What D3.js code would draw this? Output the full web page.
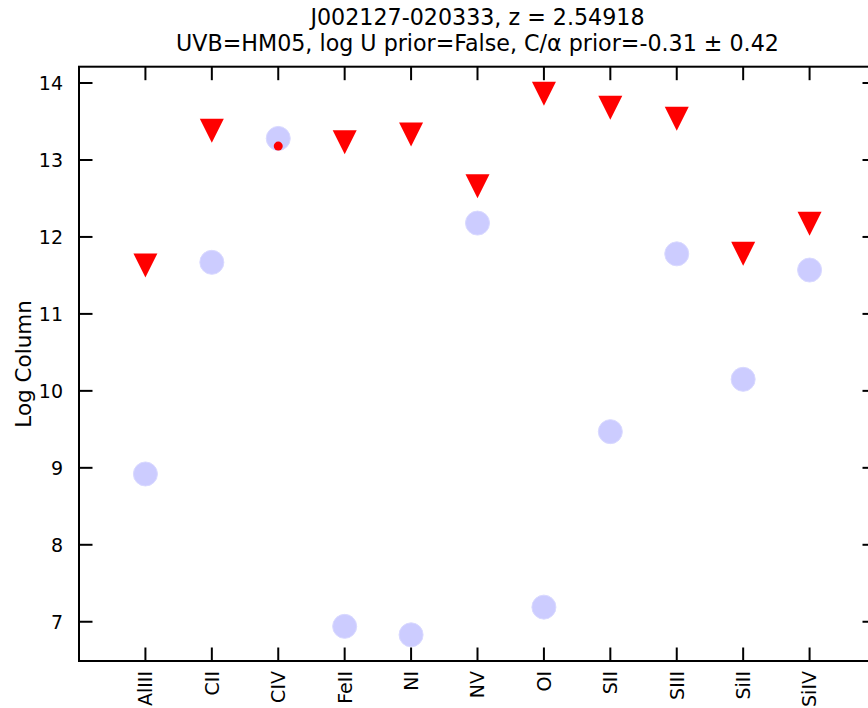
<!DOCTYPE html>
<html><head><meta charset="utf-8">
<script src="https://cdn.jsdelivr.net/npm/d3@7"></script>
<style>body{margin:0;background:#fff}svg{display:block}text{font-family:"DejaVu Sans",sans-serif;fill:#000}</style>
</head><body><div id="c"></div>
<script>
const ions = ["AlIII","CII","CIV","FeII","NI","NV","OI","SII","SIII","SiII","SiIV"];
const modelValues = [8.92,11.67,13.28,6.94,6.83,12.18,7.19,9.47,11.78,10.15,11.57];
const upperLimitIons = ["AlIII","CII","FeII","NI","NV","OI","SII","SIII","SiII","SiIV"];
const upperLimitValues = [11.63,13.38,13.23,13.33,12.66,13.86,13.68,13.535,11.78,12.17];
const detectionIons = ["CIV"];
const detectionValues = [13.18];
const detectionErrors = [0.04];
const yTicks = [7,8,9,10,11,12,13,14];
const titleLines = ["J002127-020333, z = 2.54918","UVB=HM05, log U prior=False, C/α prior=-0.31 ± 0.42"];
const yLabel = "Log Column";

const W=868,H=708;
const m={left:79,right:876,top:66.7,bottom:661};
const svg=d3.select("#c").append("svg").attr("width",W).attr("height",H);
const x=d3.scaleLinear().domain([-1,11]).range([m.left,m.right]);
const y=d3.scaleLinear().domain([6.49,14.212]).range([m.bottom,m.top]);
const xi=n=>x(ions.indexOf(n));

const g=svg.append("g");
// model circles
g.selectAll("circle.m").data(modelValues).join("circle").attr("class","m")
 .attr("cx",(d,i)=>x(i)).attr("cy",d=>y(d)).attr("r",12)
 .attr("fill","#ccccff").attr("stroke","#d9d9ff").attr("stroke-width",1);
// upper limits
g.selectAll("path.u").data(upperLimitValues).join("path").attr("class","u")
 .attr("d","M-12,-12L12,-12L0,12Z")
 .attr("transform",(d,i)=>`translate(${xi(upperLimitIons[i])},${y(d)})`)
 .attr("fill","#ff0000");
// detections
g.selectAll("line.e").data(detectionValues).join("line").attr("class","e")
 .attr("x1",(d,i)=>xi(detectionIons[i])).attr("x2",(d,i)=>xi(detectionIons[i]))
 .attr("y1",(d,i)=>y(d+detectionErrors[i])).attr("y2",(d,i)=>y(d-detectionErrors[i]))
 .attr("stroke","#ff0000").attr("stroke-width",3);
g.selectAll("circle.d").data(detectionValues).join("circle").attr("class","d")
 .attr("cx",(d,i)=>xi(detectionIons[i])).attr("cy",d=>y(d)).attr("r",4.5).attr("fill","#ff0000");

// axes (ticks inward)
const tl=13.5;
const ax=svg.append("g").attr("stroke","#000").attr("stroke-width",2);
ax.append("rect").attr("x",m.left).attr("y",m.top).attr("width",m.right-m.left).attr("height",m.bottom-m.top).attr("fill","none");
ions.forEach((n,i)=>{
  ax.append("line").attr("x1",x(i)).attr("x2",x(i)).attr("y1",m.bottom).attr("y2",m.bottom-tl);
  ax.append("line").attr("x1",x(i)).attr("x2",x(i)).attr("y1",m.top).attr("y2",m.top+tl);
});
yTicks.forEach(t=>{
  ax.append("line").attr("x1",m.left).attr("x2",m.left+tl).attr("y1",y(t)).attr("y2",y(t));
  ax.append("line").attr("x1",m.right).attr("x2",m.right-tl).attr("y1",y(t)).attr("y2",y(t));
});
svg.append("g").selectAll("text").data(yTicks).join("text")
 .attr("x",m.left-16).attr("y",d=>y(d)).attr("dy","0.36em").attr("text-anchor","end")
 .attr("font-size",19).text(d=>d);
svg.append("g").selectAll("text").data(ions).join("text")
 .attr("transform",(d,i)=>`translate(${x(i)},${m.bottom+10}) rotate(-90)`)
 .attr("text-anchor","end").attr("dy","0.36em").attr("font-size",19).text(d=>d);
svg.append("text").attr("transform",`translate(31,${(m.top+m.bottom)/2}) rotate(-90)`)
 .attr("text-anchor","middle").attr("font-size",21.5).text(yLabel);
svg.selectAll("text.t").data(titleLines).join("text").attr("class","t")
 .attr("x",(m.left+m.right)/2).attr("y",(d,i)=>24.5+i*26.7).attr("text-anchor","middle")
 .attr("font-size",22.2).text(d=>d);
</script></body></html>
